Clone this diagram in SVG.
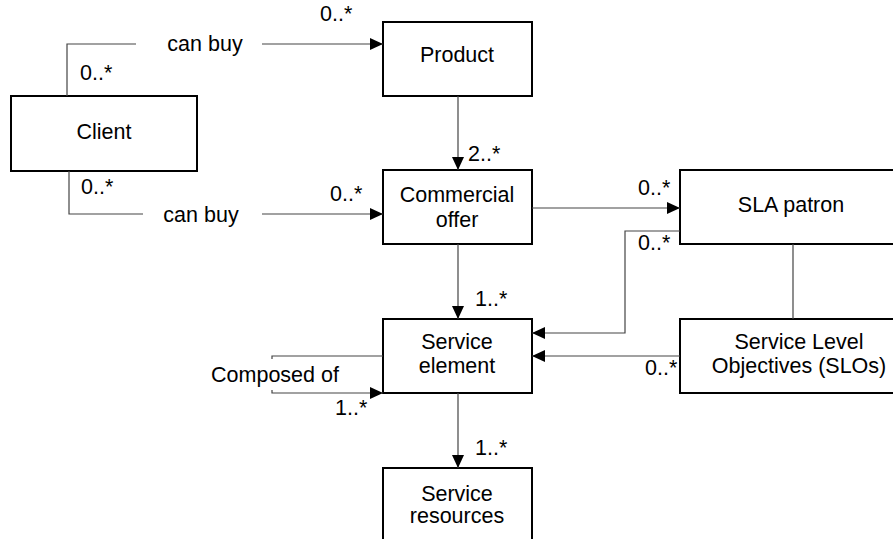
<svg xmlns="http://www.w3.org/2000/svg" width="893" height="539" viewBox="0 0 893 539">
<style>
.box{fill:#fff;stroke:#000;stroke-width:2}
.t{font-family:"Liberation Sans",Arial,sans-serif;font-size:21.5px;fill:#000}
.m{text-anchor:middle}
.c{fill:none;stroke:#444;stroke-width:1.2}
</style>
<defs>
<marker id="a" viewBox="0 0 13 12" refX="13" refY="6" markerWidth="13" markerHeight="12" markerUnits="userSpaceOnUse" orient="auto">
<path d="M0,0 L13,6 L0,12 Z" fill="#000"/>
</marker>
</defs>
<rect width="893" height="539" fill="#fff"/>
<g id="client">
<rect class="box" x="11" y="96" width="186" height="75"/>
<text class="t m" x="104" y="139">Client</text>
</g>
<g id="product">
<rect class="box" x="383" y="22" width="149" height="74"/>
<text class="t m" x="457" y="62">Product</text>
</g>
<g id="commercial-offer">
<rect class="box" x="383" y="170" width="149" height="74"/>
<text class="t m" x="457" y="202">Commercial</text>
<text class="t m" x="457" y="227">offer</text>
</g>
<g id="sla-patron">
<rect class="box" x="680" y="170" width="230" height="74"/>
<text class="t m" x="791" y="212">SLA patron</text>
</g>
<g id="service-element">
<rect class="box" x="383" y="319" width="149" height="74"/>
<text class="t m" x="457" y="349">Service</text>
<text class="t m" x="457" y="373">element</text>
</g>
<g id="slos">
<rect class="box" x="680" y="319" width="230" height="74"/>
<text class="t m" x="799" y="349">Service Level</text>
<text class="t m" x="799" y="373">Objectives (SLOs)</text>
</g>
<g id="service-resources">
<rect class="box" x="383" y="468" width="149" height="80"/>
<text class="t m" x="457" y="501">Service</text>
<text class="t m" x="457" y="523">resources</text>
</g>
<g id="connectors">
<path class="c" d="M67,96 V44 H136"/>
<path class="c" d="M262,44 H383" marker-end="url(#a)"/>
<path class="c" d="M69,171 V214 H143"/>
<path class="c" d="M262,214 H383" marker-end="url(#a)"/>
<path class="c" d="M458,96 V170" marker-end="url(#a)"/>
<path class="c" d="M532,208 H680" marker-end="url(#a)"/>
<path class="c" d="M680,231 H625 V333 H532" marker-end="url(#a)"/>
<path class="c" d="M458,244 V319" marker-end="url(#a)"/>
<path class="c" d="M793,244 V319"/>
<path class="c" d="M680,356 H532" marker-end="url(#a)"/>
<path class="c" d="M383,356 H272 V359"/>
<path class="c" d="M272,390 V393 H383" marker-end="url(#a)"/>
<path class="c" d="M458,393 V468" marker-end="url(#a)"/>
<text class="t m" x="205" y="51">can buy</text>
<text class="t" x="320" y="21">0..*</text>
<text class="t" x="80" y="80">0..*</text>
<text class="t m" x="201" y="222">can buy</text>
<text class="t" x="330" y="201">0..*</text>
<text class="t" x="81" y="194">0..*</text>
<text class="t" x="468" y="161">2..*</text>
<text class="t" x="638" y="195">0..*</text>
<text class="t" x="638" y="250">0..*</text>
<text class="t" x="475" y="306">1..*</text>
<text class="t" x="645" y="375">0..*</text>
<text class="t m" x="275" y="382">Composed of</text>
<text class="t" x="335" y="415">1..*</text>
<text class="t" x="475" y="455">1..*</text>
</g>
</svg>
